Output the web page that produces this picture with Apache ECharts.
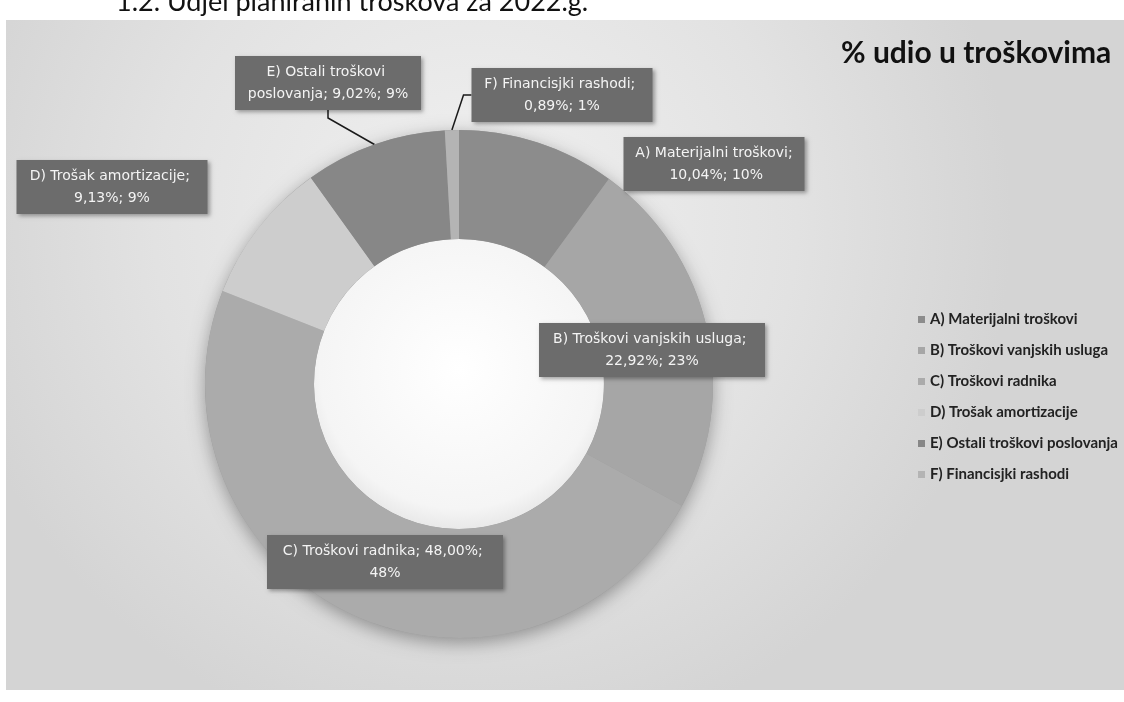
<!DOCTYPE html>
<html>
<head>
<meta charset="utf-8">
<script src="https://cdn.jsdelivr.net/npm/echarts@6/dist/echarts.min.js"></script>
<style>
html,body{margin:0;padding:0;background:#fff;}
#c{width:1124px;height:702px;}
</style>
</head>
<body>
<div id="c"></div>
<script>
// ---- data ----
const categories = [
  'A) Materijalni troškovi',
  'B) Troškovi vanjskih usluga',
  'C) Troškovi radnika',
  'D) Trošak amortizacije',
  'E) Ostali troškovi poslovanja',
  'F) Financisjki rashodi'
];
const shares = [10.04, 22.92, 48.00, 9.13, 9.02, 0.89];
const chartTitle = '% udio u troškovima';
const caption = '1.2. Udjel planiranih troškova za 2022.g.';

// ---- styling / layout (not data) ----
const sliceColors = ['#8c8c8c', '#a6a6a6', '#ababab', '#cdcdcd', '#878787', '#b4b4b4'];
const labelWidths = [165, 210, 220, 175, 170, 165];
const labelCenters = [[714,164],[652,350],[385,562],[112,187],[328,83],[562,95]];
const showLine = [false, false, false, false, true, true];
const CX = 459, CY = 384, R0 = 145, R1 = 254;

const fmtNum = v => v.toFixed(2).replace('.', ',');

const data = categories.map((name, i) => ({
  name: name,
  value: shares[i],
  itemStyle: { color: sliceColors[i] },
  label: { width: labelWidths[i] },
  labelLine: { show: showLine[i] }
}));

const chart = echarts.init(document.getElementById('c'));
chart.setOption({
  backgroundColor: '#ffffff',
  animation: false,
  graphic: [
    {
      type: 'rect', z: -10,
      shape: { x: 6, y: 20, width: 1118, height: 670 },
      style: {
        fill: {
          type: 'radial', x: 0.42, y: 0.3, r: 0.8,
          colorStops: [
            { offset: 0, color: '#f1f1f1' },
            { offset: 0.6, color: '#e2e2e2' },
            { offset: 1, color: '#d4d4d4' }
          ]
        }
      }
    },
    {
      type: 'ring', z: -5,
      shape: { cx: CX, cy: CY, r: R1, r0: R0 },
      style: { fill: '#9a9a9a', shadowBlur: 18, shadowColor: 'rgba(0,0,0,0.35)', shadowOffsetY: 5 }
    },
    {
      type: 'circle', z: -4,
      shape: { cx: CX, cy: CY, r: R0 },
      style: {
        fill: {
          type: 'radial', x: 0.5, y: 0.45, r: 0.6,
          colorStops: [
            { offset: 0, color: '#ffffff' },
            { offset: 0.8, color: '#f5f5f5' },
            { offset: 1, color: '#e0e0e0' }
          ]
        }
      }
    },
    {
      type: 'text', z: 10,
      style: { text: caption, x: 116, y: -11, font: '27px Lato', fill: '#111111', verticalAlign: 'top' }
    }
  ],
  title: {
    text: chartTitle,
    left: 836, top: 33,
    textStyle: { fontFamily: 'Lato', fontSize: 30, fontWeight: 'bold', color: '#111111' }
  },
  legend: {
    orient: 'vertical',
    left: 913, top: 307,
    itemWidth: 7, itemHeight: 7,
    itemGap: 16,
    icon: 'rect',
    data: categories,
    textStyle: { fontFamily: 'Lato', fontSize: 15, fontWeight: 'bold', color: '#222222' }
  },
  series: [{
    type: 'pie',
    center: [CX, CY],
    radius: [R0, R1],
    startAngle: 90,
    clockwise: true,
    data: data,
    label: {
      show: true,
      position: 'outside',
      formatter: p => p.name + '; ' + fmtNum(p.value) + '%; ' + Math.round(p.value) + '%',
      overflow: 'break',
      fontFamily: 'DejaVu Sans',
      fontSize: 14,
      lineHeight: 22,
      color: '#f4f4f4',
      backgroundColor: '#6c6c6c',
      padding: [5, 8],
      align: 'center',
      shadowBlur: 4,
      shadowColor: 'rgba(0,0,0,0.35)',
      shadowOffsetX: 2, shadowOffsetY: 2
    },
    labelLine: {
      length: 10, length2: 8,
      lineStyle: { color: '#1a1a1a', width: 1.5 }
    },
    labelLayout: function (params) {
      const c = labelCenters[params.dataIndex];
      return { x: c[0], y: c[1], align: 'center', verticalAlign: 'middle' };
    },
    emphasis: { disabled: true }
  }]
});
</script>
</body>
</html>
